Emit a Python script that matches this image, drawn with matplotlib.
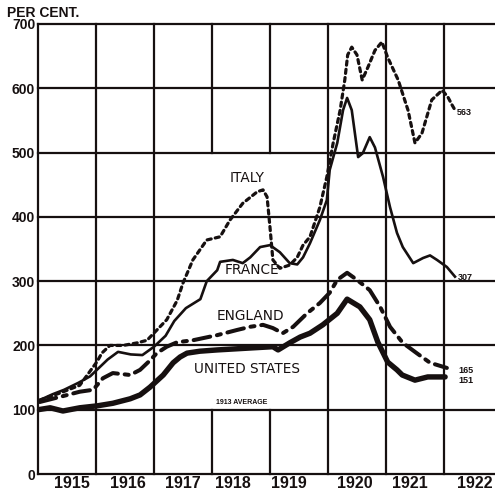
import matplotlib
matplotlib.use("Agg")
import matplotlib.pyplot as plt

INK = "#161010"

# Price indices, per cent of the 1913 average (year, value)
us_year = [1915.00, 1915.21, 1915.43, 1915.72, 1916.02, 1916.29, 1916.59, 1916.76, 1916.93,
           1917.16, 1917.33, 1917.45, 1917.57, 1917.79, 1918.09, 1918.66, 1919.05, 1919.14,
           1919.34, 1919.52, 1919.69, 1919.91, 1920.16, 1920.33, 1920.55, 1920.72, 1920.86,
           1921.03, 1921.19, 1921.28, 1921.50, 1921.72, 1922.02]
us_val = [100, 103, 98, 103, 106, 110, 117, 123, 135,
          154, 173, 182, 188, 191, 193, 196, 198, 193,
          204, 213, 219, 232, 250, 272, 260, 240, 205,
          174, 162, 154, 146, 151, 151]

eng_year = [1915.03, 1915.38, 1915.72, 1915.95, 1916.12, 1916.29, 1916.59, 1916.76, 1916.90,
            1917.05, 1917.22, 1917.40, 1917.67, 1918.09, 1918.43, 1918.66, 1918.88, 1919.05,
            1919.22, 1919.40, 1919.64, 1919.86, 1920.03, 1920.16, 1920.33, 1920.50, 1920.72,
            1920.90, 1921.07, 1921.29, 1921.53, 1921.76, 1922.05]
eng_val = [112, 120, 128, 131, 149, 157, 154, 162, 174,
           188, 198, 205, 208, 216, 224, 229, 232, 227,
           219, 229, 250, 266, 282, 302, 313, 302, 286,
           260, 229, 204, 188, 173, 165]

fr_year = [1915.03, 1915.25, 1915.45, 1915.70, 1915.90, 1916.05, 1916.20, 1916.38, 1916.60,
           1916.80, 1917.00, 1917.20, 1917.35, 1917.55, 1917.80, 1917.91, 1918.09, 1918.14,
           1918.36, 1918.53, 1918.66, 1918.83, 1919.00, 1919.17, 1919.34, 1919.47, 1919.57,
           1919.69, 1919.86, 1919.98, 1920.03, 1920.16, 1920.26, 1920.33, 1920.41, 1920.52,
           1920.60, 1920.72, 1920.81, 1920.95, 1921.07, 1921.19, 1921.29, 1921.47, 1921.64,
           1921.76, 1921.88, 1922.05, 1922.19]
fr_val = [115, 124, 131, 142, 152, 165, 178, 190, 186,
          185, 198, 215, 238, 258, 272, 300, 317, 330,
          333, 328, 337, 353, 356, 345, 328, 326, 337,
          359, 395, 426, 473, 515, 566, 585, 566, 493,
          499, 524, 508, 462, 415, 375, 353, 328, 336,
          340, 333, 322, 307]

it_year = [1915.03, 1915.38, 1915.72, 1916.02, 1916.10, 1916.24, 1916.47, 1916.71, 1916.88,
           1917.05, 1917.22, 1917.40, 1917.50, 1917.67, 1917.91, 1918.14, 1918.31, 1918.53,
           1918.78, 1918.88, 1918.95, 1919.00, 1919.05, 1919.17, 1919.34, 1919.47, 1919.57,
           1919.69, 1919.86, 1919.98, 1920.09, 1920.21, 1920.29, 1920.34, 1920.41, 1920.50,
           1920.59, 1920.69, 1920.81, 1920.93, 1921.03, 1921.21, 1921.38, 1921.50, 1921.62,
           1921.79, 1921.97, 1922.07, 1922.14, 1922.21]
it_val = [115, 126, 138, 175, 188, 200, 200, 204, 208,
          224, 240, 270, 297, 333, 364, 369, 395, 421,
          439, 442, 431, 384, 333, 320, 325, 337, 356,
          369, 415, 462, 515, 566, 613, 652, 664, 652,
          613, 633, 659, 672, 648, 613, 566, 515, 530,
          582, 597, 586, 574, 563]

year_labels = ["1915", "1916", "1917", "1918", "1919", "1920", "1921", "1922"]
year_label_pos = [1915.59, 1916.55, 1917.50, 1918.36, 1919.33, 1920.47, 1921.41, 1922.53]
pct_ticks = [0, 100, 200, 300, 400, 500, 600, 700]

end_values = {"ITALY": 563, "FRANCE": 307, "ENGLAND": 165, "UNITED STATES": 151}

LETTER = ["Liberation Sans", "DejaVu Sans"]

fig = plt.figure(figsize=(4.95, 4.92), dpi=100)
fig.patch.set_facecolor("white")
ax = fig.add_axes([38 / 495, 18 / 492, 457 / 495, 450 / 492])
ax.set_xlim(1915, 1922.88)
ax.set_ylim(0, 700)
for s in ax.spines.values():
    s.set_visible(False)

# ruled grid: the 1918 and 1919 rules are left open between 100 and 500
gkw = dict(color=INK, lw=1.6, clip_on=False, zorder=1, capstyle="projecting")
for v in pct_ticks:
    ax.hlines(v, 1915, 1922.88, **gkw)
for yr in range(1915, 1923):
    if yr in (1918, 1919):
        ax.vlines(yr, 500, 700, **gkw)
        ax.vlines(yr, 0, 100, **gkw)
    else:
        ax.vlines(yr, 0, 700, **gkw)

# series
ax.plot(us_year, us_val, color=INK, lw=3.9, solid_capstyle="round",
        solid_joinstyle="round", zorder=5)
ax.plot(eng_year, eng_val, color=INK, lw=2.9, dashes=(4.2, 1.7, 1.0, 1.7),
        dash_capstyle="round", zorder=4)
ax.plot(fr_year, fr_val, color=INK, lw=1.9, solid_joinstyle="round", zorder=4)
ax.plot(it_year, it_val, color=INK, lw=2.3, dashes=(1.3, 1.3),
        dash_capstyle="round", zorder=3)

# axis labels
ax.set_yticks(pct_ticks)
ax.set_yticklabels([str(v) for v in pct_ticks], family=LETTER, fontsize=10,
                   fontweight="bold", color=INK)
ax.set_xticks(year_label_pos)
ax.set_xticklabels(year_labels, family=LETTER, fontsize=11.5, fontweight="bold",
                   color=INK)
ax.tick_params(length=0, pad=2)
ax.tick_params(axis="x", pad=1.5)

fig.text(7 / 495, 1 - 13 / 492, "PER CENT.", family=LETTER, fontsize=10,
         fontweight="bold", color=INK, va="center", ha="left")

# series names
lkw = dict(fontsize=9.8, color=INK, ha="center", va="center", zorder=6)
ax.text(1918.60, 460, "ITALY", **lkw)
ax.text(1918.69, 317, "FRANCE", **lkw)
ax.text(1918.67, 246, "ENGLAND", **lkw)
ax.text(1918.60, 163, "UNITED STATES", **lkw)
ax.text(1918.52, 111, "1913 AVERAGE", fontsize=5, fontweight="bold",
        family=LETTER, color=INK, ha="center", va="center")

# closing values
ekw = dict(fontsize=6.5, fontweight="bold", color=INK, ha="left", va="center",
           family=LETTER)
ax.text(1922.22, 563, str(end_values["ITALY"]), **ekw)
ax.text(1922.24, 305, str(end_values["FRANCE"]), **ekw)
ax.text(1922.25, 161, str(end_values["ENGLAND"]), **ekw)
ax.text(1922.25, 145, str(end_values["UNITED STATES"]), **ekw)

fig.savefig("out.png", dpi=100, facecolor="white")
